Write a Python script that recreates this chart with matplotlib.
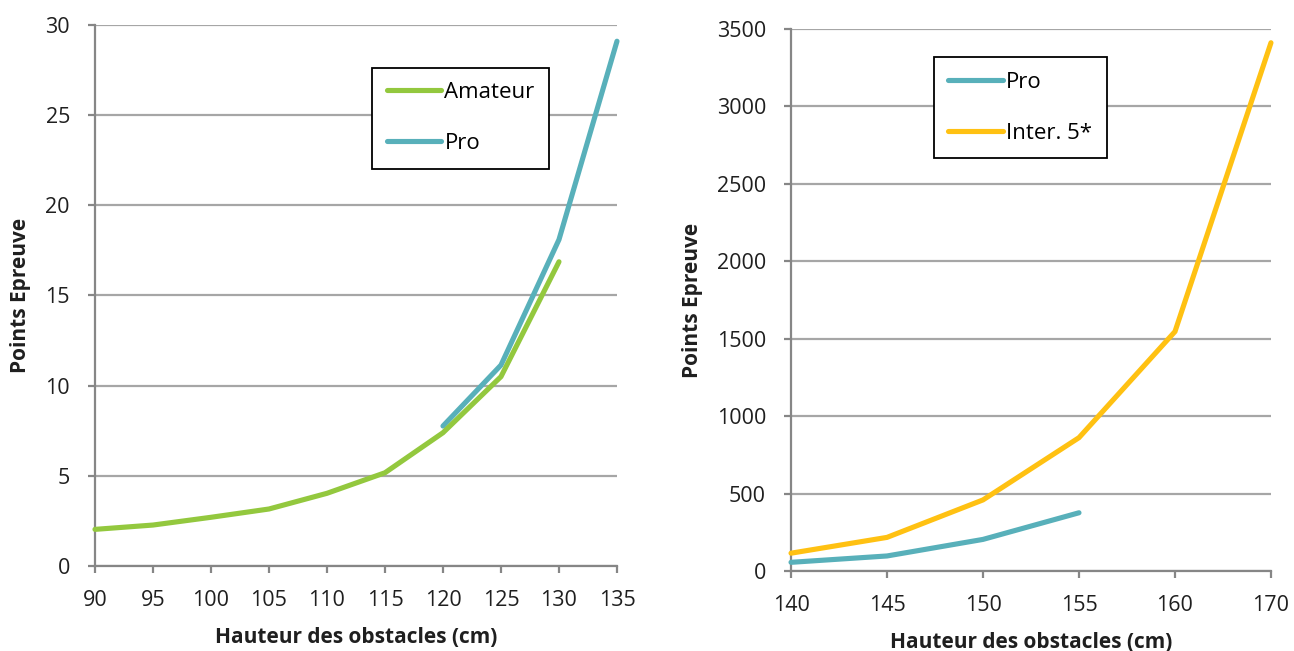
import matplotlib
matplotlib.use("Agg")
import matplotlib.pyplot as plt

plt.rcParams['font.family'] = ['Open Sans', 'DejaVu Sans']

# Left panel: amateur / pro events
left_heights = ["90", "95", "100", "105", "110", "115", "120", "125", "130", "135"]
amateur_pts = [2.03, 2.27, 2.7, 3.16, 4.03, 5.17, 7.39, 10.5, 16.87]
pro_left_heights = ["120", "125", "130", "135"]
pro_left_pts = [7.76, 11.14, 18.1, 29.1]

# Right panel: pro / international 5* events
right_heights = ["140", "145", "150", "155", "160", "170"]
pro_right_pts = [56, 97, 204, 376]
inter5_pts = [115, 217, 459, 861, 1546, 3411]

GREEN = "#93C83E"
TEAL = "#58B0BA"
YELLOW = "#FFC112"
GRID = "#A6A6A6"
AXIS = "#868686"
TEXT = "#1f1f1f"

fig = plt.figure(figsize=(12.94, 6.51), dpi=100)
ax1 = fig.add_axes([0.0734, 0.1306, 0.4034, 0.8310])
ax2 = fig.add_axes([0.6113, 0.1229, 0.3709, 0.8326])


def style(ax, yticks, n):
    ax.set_xlim(0, n - 1)
    ax.set_ylim(yticks[0], yticks[-1])
    ax.set_yticks(yticks)
    ax.grid(axis="y", color=GRID, linewidth=1.6)
    ax.set_axisbelow(True)
    for s in ("top", "right"):
        ax.spines[s].set_visible(False)
    for s in ("left", "bottom"):
        ax.spines[s].set_color(AXIS)
        ax.spines[s].set_linewidth(1.6)
        ax.spines[s].set_zorder(1.5)
    ax.tick_params(axis="both", direction="out", length=5, width=1.6,
                   color=AXIS, labelsize=15.5, labelcolor=TEXT)
    ax.tick_params(axis="x", pad=12)
    ax.tick_params(axis="y", pad=13)
    ax.set_xlabel("Hauteur des obstacles (cm)", fontsize=15,
                  fontweight="bold", color=TEXT, labelpad=12)
    ax.set_ylabel("Points Epreuve", fontsize=15, fontweight="bold",
                  color=TEXT, labelpad=10)


def legend(ax, loc):
    leg = ax.legend(loc="upper left", bbox_to_anchor=loc, fontsize=16,
                    frameon=True, fancybox=False, handlelength=2.45,
                    handletextpad=0.15, labelspacing=1.35, borderpad=0.65,
                    borderaxespad=0)
    fr = leg.get_frame()
    fr.set_edgecolor("black")
    fr.set_linewidth(1.3)
    fr.set_alpha(1)


# Left panel
xl = list(range(len(left_heights)))
x_pro_l = [left_heights.index(h) for h in pro_left_heights]
ax1.plot(xl[:len(amateur_pts)], amateur_pts, color=GREEN, lw=3.7,
         solid_capstyle="round", solid_joinstyle="miter", label="Amateur", zorder=3)
ax1.plot(x_pro_l, pro_left_pts, color=TEAL, lw=3.7, solid_capstyle="round",
         solid_joinstyle="miter", label="Pro", zorder=2)
ax1.set_xticks(xl)
ax1.set_xticklabels(left_heights)
style(ax1, [0, 5, 10, 15, 20, 25, 30], len(left_heights))
legend(ax1, (0.531, 0.921))

# Right panel
xr = list(range(len(right_heights)))
ax2.plot(xr[:len(pro_right_pts)], pro_right_pts, color=TEAL, lw=3.7,
         solid_capstyle="round", solid_joinstyle="miter", label="Pro", zorder=2)
ax2.plot(xr, inter5_pts, color=YELLOW, lw=3.7, solid_capstyle="round",
         solid_joinstyle="miter", label="Inter. 5*", zorder=3)
ax2.set_xticks(xr)
ax2.set_xticklabels(right_heights)
style(ax2, [0, 500, 1000, 1500, 2000, 2500, 3000, 3500], len(right_heights))
legend(ax2, (0.298, 0.948))

for ax in (ax1, ax2):
    for lab in ax.get_xticklabels() + ax.get_yticklabels():
        lab.set_clip_on(False)
    for ln in ax.get_lines():
        ln.set_clip_on(False)

fig.savefig("out.png", dpi=100, facecolor="white")
